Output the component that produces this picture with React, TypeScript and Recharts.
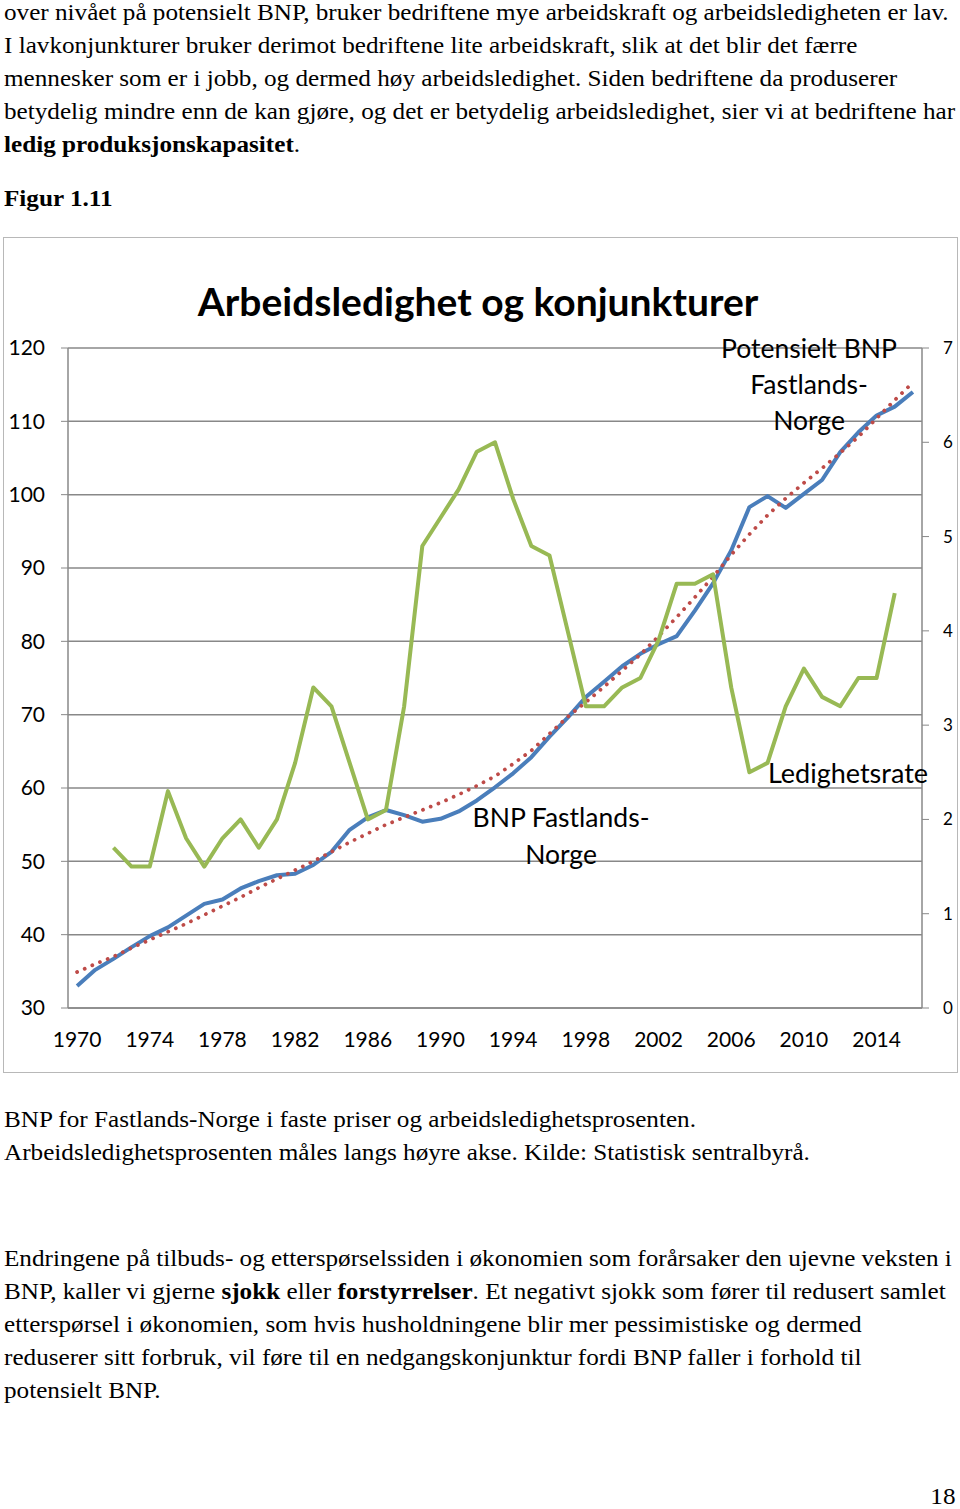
import React from 'react'
import { LineChart, Line, XAxis, YAxis, CartesianGrid } from 'recharts'

// år (kategorier)
const years = [
  1970, 1971, 1972, 1973, 1974, 1975, 1976, 1977, 1978, 1979,
  1980, 1981, 1982, 1983, 1984, 1985, 1986, 1987, 1988, 1989,
  1990, 1991, 1992, 1993, 1994, 1995, 1996, 1997, 1998, 1999,
  2000, 2001, 2002, 2003, 2004, 2005, 2006, 2007, 2008, 2009,
  2010, 2011, 2012, 2013, 2014, 2015, 2016,
]

// BNP Fastlands-Norge, indeks (venstre akse)
const bnp = [
  33.0, 35.2, 36.7, 38.3, 39.8, 41.0, 42.6, 44.2, 44.8, 46.3,
  47.3, 48.1, 48.3, 49.5, 51.3, 54.3, 56.0, 57.0, 56.3, 55.4,
  55.8, 56.8, 58.3, 60.1, 62.0, 64.2, 67.0, 69.6, 72.4, 74.5,
  76.6, 78.3, 79.6, 80.7, 84.2, 87.9, 92.4, 98.3, 99.8, 98.2,
  100.1, 102.0, 105.8, 108.5, 110.8, 112.0, 114.0,
]

// Potensielt BNP Fastlands-Norge (venstre akse)
const potensielt = [
  34.9, 36.0, 37.0, 38.2, 39.3, 40.4, 41.5, 42.7, 43.9, 45.1,
  46.4, 47.6, 48.8, 50.0, 51.3, 52.6, 53.8, 55.0, 56.0, 57.0,
  58.0, 59.1, 60.3, 61.6, 63.3, 65.1, 67.4, 69.7, 71.7, 73.8,
  76.0, 78.2, 80.7, 83.3, 86.0, 88.8, 91.8, 94.6, 97.2, 99.5,
  101.6, 103.6, 105.7, 107.9, 110.4, 112.9, 115.3,
]

// Ledighetsrate i prosent (høyre akse)
const ledighet = [
  null, null, 1.7, 1.5, 1.5, 2.3, 1.8, 1.5, 1.8, 2.0,
  1.7, 2.0, 2.6, 3.4, 3.2, 2.6, 2.0, 2.1, 3.2, 4.9,
  5.2, 5.5, 5.9, 6.0, 5.4, 4.9, 4.8, 4.0, 3.2, 3.2,
  3.4, 3.5, 3.9, 4.5, 4.5, 4.6, 3.4, 2.5, 2.6, 3.2,
  3.6, 3.3, 3.2, 3.5, 3.5, 4.4, null,
]

const yearLabels = [1970, 1974, 1978, 1982, 1986, 1990, 1994, 1998, 2002, 2006, 2010, 2014]
const yearBoundaries = [1969.5, 1973.5, 1977.5, 1981.5, 1985.5, 1989.5, 1993.5, 1997.5, 2001.5, 2005.5, 2009.5, 2013.5]
const leftTicks = [30, 40, 50, 60, 70, 80, 90, 100, 110, 120]
const rightTicks = [0, 1, 2, 3, 4, 5, 6, 7]

const data = years.map((year, i) => ({
  year,
  bnp: bnp[i],
  potensielt: potensielt[i],
  ledighet: ledighet[i],
}))

const serif = '"Liberation Serif", "Times New Roman", serif'
const sans = 'Lato, "Open Sans", sans-serif'
const grey = '#888888'
const bodySize = 23.5
const bodyStretch = 1.071

function TextLine({ baseline, children, right }: { baseline: number; children: React.ReactNode; right?: number }) {
  return (
    <div
      style={{
        position: 'absolute',
        top: baseline - bodySize * 0.8375,
        left: right === undefined ? 4 : undefined,
        right: right,
        fontSize: bodySize,
        lineHeight: `${bodySize}px`,
        whiteSpace: 'nowrap',
        fontFamily: serif,
        color: '#000',
        transform: `scaleX(${bodyStretch})`,
        transformOrigin: right === undefined ? 'left center' : 'right center',
      }}
    >
      {children}
    </div>
  )
}

function Note({ cx, cy, lines, size = 26.5, gap = 36 }: { cx: number; cy: number; lines: string[]; size?: number; gap?: number }) {
  return (
    <div
      style={{
        position: 'absolute',
        left: cx - 150,
        top: cy - gap / 2,
        width: 300,
        textAlign: 'center',
        fontFamily: sans,
        fontSize: size,
        lineHeight: `${gap}px`,
        color: '#000',
        whiteSpace: 'nowrap',
      }}
    >
      {lines.map((l) => (
        <div key={l}>{l}</div>
      ))}
    </div>
  )
}

export default function App() {
  return (
    <div style={{ position: 'absolute', left: 0, top: 0, width: 960, height: 1509, background: '#fff', overflow: 'hidden' }}>
      <TextLine baseline={20.5}>over nivået på potensielt BNP, bruker bedriftene mye arbeidskraft og arbeidsledigheten er lav.</TextLine>
      <TextLine baseline={53.5}>I lavkonjunkturer bruker derimot bedriftene lite arbeidskraft, slik at det blir det færre</TextLine>
      <TextLine baseline={86.5}>mennesker som er i jobb, og dermed høy arbeidsledighet. Siden bedriftene da produserer</TextLine>
      <TextLine baseline={119.5}>betydelig mindre enn de kan gjøre, og det er betydelig arbeidsledighet, sier vi at bedriftene har</TextLine>
      <TextLine baseline={152.5}>
        <b>ledig produksjonskapasitet</b>.
      </TextLine>
      <TextLine baseline={207}>
        <b>Figur 1.11</b>
      </TextLine>

      {/* figurramme */}
      <div style={{ position: 'absolute', left: 3, top: 237, width: 953, height: 834, border: '1px solid #b8b8b8' }}>
        <LineChart width={953} height={834} data={data} margin={{ top: 110, right: 0, bottom: 0, left: 0 }}>
          <CartesianGrid xAxisId="labels" yAxisId="left" vertical={false} stroke={grey} strokeWidth={1.5} />
          <XAxis
            xAxisId="marks"
            dataKey="year"
            type="number"
            domain={[1969.5, 2016.5]}
            allowDataOverflow
            ticks={yearBoundaries}
            interval={0}
            height={0}
            tick={false}
            tickSize={7}
            axisLine={false}
            stroke={grey}
          />
          <XAxis
            xAxisId="labels"
            dataKey="year"
            type="number"
            domain={[1969.5, 2016.5]}
            allowDataOverflow
            ticks={yearLabels}
            interval={0}
            height={64}
            tickLine={false}
            tickSize={7}
            tickMargin={17}
            axisLine={{ stroke: grey, strokeWidth: 1.5 }}
            tick={{ fill: '#000', fontSize: 21, fontFamily: sans }}
          />
          <YAxis
            yAxisId="left"
            orientation="left"
            domain={[30, 120]}
            ticks={leftTicks}
            interval={0}
            width={64}
            tickSize={7}
            tickMargin={16}
            stroke={grey}
            axisLine={{ stroke: grey, strokeWidth: 1.5 }}
            tick={{ fill: '#000', fontSize: 21, fontFamily: sans }}
          />
          <YAxis
            yAxisId="right"
            orientation="right"
            domain={[0, 7]}
            ticks={rightTicks}
            interval={0}
            width={35}
            tickSize={7}
            tickMargin={14}
            stroke={grey}
            axisLine={{ stroke: grey, strokeWidth: 1.5 }}
            tick={{ fill: '#000', fontSize: 17, fontFamily: sans }}
          />
          <Line
            xAxisId="labels"
            yAxisId="left"
            type="linear"
            dataKey="bnp"
            stroke="#4a7ebb"
            strokeWidth={4}
            strokeLinejoin="round"
            dot={false}
            isAnimationActive={false}
          />
          <Line
            xAxisId="labels"
            yAxisId="left"
            type="linear"
            dataKey="potensielt"
            stroke="#be4b48"
            strokeWidth={3.8}
            strokeDasharray="0.01 8.3"
            strokeLinecap="round"
            dot={false}
            isAnimationActive={false}
          />
          <Line
            xAxisId="labels"
            yAxisId="right"
            type="linear"
            dataKey="ledighet"
            stroke="#98b954"
            strokeWidth={4}
            strokeLinejoin="round"
            dot={false}
            isAnimationActive={false}
          />
        </LineChart>
      </div>

      <div
        style={{
          position: 'absolute',
          left: 178,
          top: 280,
          width: 600,
          textAlign: 'center',
          fontFamily: sans,
          fontWeight: 700,
          fontSize: 39,
          lineHeight: '42px',
          whiteSpace: 'nowrap',
        }}
      >
        Arbeidsledighet og konjunkturer
      </div>
      <Note cx={809} cy={348} lines={['Potensielt BNP', 'Fastlands-', 'Norge']} />
      <Note cx={561} cy={817} lines={['BNP Fastlands-', 'Norge']} gap={37} />
      <Note cx={848} cy={773} lines={['Ledighetsrate']} size={27} />

      <TextLine baseline={1128}>BNP for Fastlands-Norge i faste priser og arbeidsledighetsprosenten.</TextLine>
      <TextLine baseline={1161}>Arbeidsledighetsprosenten måles langs høyre akse. Kilde: Statistisk sentralbyrå.</TextLine>

      <TextLine baseline={1267}>Endringene på tilbuds- og etterspørselssiden i økonomien som forårsaker den ujevne veksten i</TextLine>
      <TextLine baseline={1300}>
        BNP, kaller vi gjerne <b>sjokk</b> eller <b>forstyrrelser</b>. Et negativt sjokk som fører til redusert samlet
      </TextLine>
      <TextLine baseline={1333}>etterspørsel i økonomien, som hvis husholdningene blir mer pessimistiske og dermed</TextLine>
      <TextLine baseline={1366}>reduserer sitt forbruk, vil føre til en nedgangskonjunktur fordi BNP faller i forhold til</TextLine>
      <TextLine baseline={1399}>potensielt BNP.</TextLine>

      <TextLine baseline={1505} right={5}>18</TextLine>
    </div>
  )
}
